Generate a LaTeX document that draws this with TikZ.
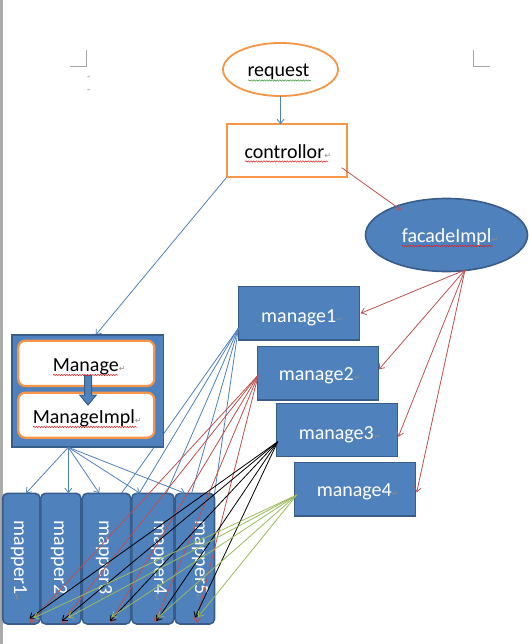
\documentclass[tikz,border=0pt]{standalone}
\usepackage{fontspec}
\setmainfont{Carlito}
\newfontfamily\djv{DejaVu Sans}
\usetikzlibrary{arrows.meta,shapes.geometric,decorations.pathmorphing}
\definecolor{ofblue}{HTML}{4F81BD}
\definecolor{dkblue}{HTML}{385D8A}
\definecolor{oforange}{HTML}{F79646}
\definecolor{ofred}{HTML}{C0504D}
\definecolor{ofgreen}{HTML}{9BBB59}
\definecolor{pmark}{HTML}{8C8C8C}
\definecolor{barg}{HTML}{ABABAB}
\definecolor{sqred}{HTML}{E02020}
\definecolor{sqgreen}{HTML}{3C9A3C}
\newcommand\pmk{{\djv\fontsize{8}{8}\selectfont\textcolor{pmark}{↵}}}
\begin{document}
\begin{tikzpicture}[x=1pt,y=-1pt,
  every node/.style={inner sep=0pt, outer sep=0pt},
  txt/.style={anchor=base west, font=\fontsize{20}{24}\selectfont},
  wtxt/.style={txt, text=white},
  bluebox/.style={draw=dkblue, fill=ofblue, line width=1.6pt},
  orbox/.style={draw=oforange, fill=white, line width=1.8pt},
  conn/.style={line width=0.8pt, -{Straight Barb[length=4.5pt,width=7pt]}},
  bconn/.style={conn, draw=ofblue},
  rconn/.style={conn, draw=ofred},
  kconn/.style={conn, draw=black},
  gconn/.style={conn, draw=ofgreen},
  squig/.style={line width=0.5pt, decorate, decoration={snake, segment length=2.6pt, amplitude=0.7pt}},
  mapbox/.style={bluebox, rounded corners=5pt, minimum height=130.7pt},
  mtxt/.style={anchor=base west, rotate=-90, text=white, font=\fontsize{20}{24}\selectfont}
]
\useasboundingbox (0,0) rectangle (529,644);
\fill[white] (0,0) rectangle (529,644);
\fill[barg] (0,0) rectangle (3,644);
% page corner marks
\draw[gray!70, line width=0.8pt] (70,66) -- (86.3,66) -- (86.3,50);
\draw[gray!70, line width=0.8pt] (473.3,50) -- (473.3,66) -- (490,66);
\node[font=\djv\fontsize{4}{4}\selectfont, text=pmark] (pm1) at (89,77) {↵};
\node[font=\djv\fontsize{4}{4}\selectfont, text=pmark] (pm2) at (89,90.5) {↵};

% request
\node[ellipse, orbox, minimum width=115pt, minimum height=53pt] (req) at (280.5,69.5) {};
\node[txt] (reqT) at (247.5,76.7) {request};
\draw[squig, sqgreen] (248,80.5) -- (311,80.5);

% controllor
\node[orbox, minimum width=120.3pt, minimum height=53pt] (ctrl) at (286.8,150.8) {};
\node[txt] (ctrlT) at (244.5,158.3) {controllor\pmk};
\draw[squig, sqred] (245,161.5) -- (328,161.5);

% facadeImpl
\node[ellipse, bluebox, minimum width=162pt, minimum height=73pt] (fac) at (446.5,235) {};
\node[wtxt] (facT) at (401.8,242.7) {facadeImpl\pmk};
\draw[squig, sqred] (402,246) -- (493,246);

% connectors at top
\draw[bconn] (req.south) -- (req.south |- ctrl.north);
\coordinate (ctrlR) at (341.7,167.7);
\coordinate (facTL) at (401,210);
\draw[rconn] (ctrlR) -- (facTL);
\coordinate (mboxT) at (95.7,335);
\draw[bconn] (ctrl.south west) -- (mboxT);

% manage boxes
\node[bluebox, minimum width=121pt, minimum height=53.3pt] (mg1) at (298.8,313.3) {};
\node[bluebox, minimum width=121pt, minimum height=53.3pt] (mg2) at (317.8,373.3) {};
\node[bluebox, minimum width=121pt, minimum height=53.3pt] (mg3) at (337,430) {};
\node[bluebox, minimum width=121pt, minimum height=53.3pt] (mg4) at (354.8,489.2) {};
\node[wtxt] (mg1T) at (261.2,322.7) {manage1\pmk};
\node[wtxt] (mg2T) at (278.8,380.7) {manage2\pmk};
\node[wtxt] (mg3T) at (298.8,439) {manage3\pmk};
\node[wtxt] (mg4T) at (316.8,496.7) {manage4\pmk};

% facade -> manage
\coordinate (facB) at (465,270);
\coordinate (mg1R) at (360.7,313.3);
\coordinate (mg2R) at (379,369.3);
\coordinate (mg3R) at (398.3,436.7);
\coordinate (mg4R) at (416.7,492.3);
\foreach \t in {mg1R,mg2R,mg3R,mg4R} \draw[rconn] (facB) -- (\t);

% arrow end points at mapper bottoms
\coordinate (r1) at (30,622.5);
\coordinate (r2) at (61,623.5);
\coordinate (r3) at (110,622.5);
\coordinate (r4) at (155,622.5);
\coordinate (r5) at (196,622.5);
\coordinate (k1) at (29.5,618.5);
\coordinate (k2) at (62,621);
\coordinate (k3) at (110,621);
\coordinate (k4) at (156.5,621);
\coordinate (k5) at (195,617.5);
\coordinate (g1) at (33.5,618);
\coordinate (g2) at (68,617.5);
\coordinate (g3) at (111.5,617);
\coordinate (g4) at (158,617.5);
\coordinate (g5) at (198,617);

% manage1 -> mappers (hidden behind the mappers)
\coordinate (m1L) at (238.3,328.3);
\foreach \t in {r1,r2,r3,r4,r5} \draw[bconn] (m1L) -- (\t);

% Manage group
\node[bluebox, minimum width=151.6pt, minimum height=111.7pt] (mbox) at (87.5,391) {};
\node[orbox, line width=2.2pt, rounded corners=7pt, minimum width=136pt, minimum height=45.3pt] (mng) at (86.3,363.35) {};
\node[orbox, line width=2.2pt, rounded corners=7pt, minimum width=136pt, minimum height=45pt] (mngi) at (86.3,415.2) {};
\filldraw[fill=ofblue, draw=dkblue, line width=1pt] (84.5,375.7) -- (91.5,375.7) -- (91.5,395) -- (96.3,395) -- (88,405) -- (79.7,395) -- (84.5,395) -- cycle;
\node[txt] (mngT) at (52.8,371.7) {Manage\pmk};
\draw[squig, sqred] (53,375) -- (118,375);
\node[txt] (mngiT) at (32.8,423.3) {ManageImpl\pmk};
\draw[squig, sqred] (33,427) -- (137,427);

% mappers
\node[mapbox, minimum width=37.3pt] (map1) at (21.35,558.65) {};
\node[mapbox, minimum width=40.3pt] (map2) at (60.85,558.65) {};
\node[mapbox, minimum width=48.4pt] (map3) at (106.5,558.65) {};
\node[mapbox, minimum width=42.3pt] (map4) at (152.85,558.65) {};
\node[mapbox, minimum width=39.5pt] (map5) at (194.75,558.65) {};
\node[mtxt] (map1T) at (14,520.5) {mapper1\pmk};
\node[mtxt] (map2T) at (54,520.5) {mapper2\pmk};
\node[mtxt] (map3T) at (99,520.5) {mapper3\pmk};
\node[mtxt] (map4T) at (154,520.5) {mapper4\pmk};
\node[mtxt] (map5T) at (195,520.5) {mapper5\pmk};

% Manage -> mapper tops
\coordinate (mbS) at (68.3,447.3);
\coordinate (t1) at (26,493.3);
\coordinate (t2) at (68.3,493.3);
\coordinate (t3) at (99.3,493.3);
\coordinate (t4) at (140,493.3);
\coordinate (t5) at (185,493.3);
\foreach \t in {t1,t2,t3,t4,t5} \draw[bconn] (mbS) -- (\t);

% manage2/3/4 -> mappers
\coordinate (m2L) at (258.3,375);
\coordinate (m3L) at (277.7,441.7);
\coordinate (m4L) at (296.7,495);
\foreach \t in {r1,r2,r3,r4,r5} \draw[rconn] (m2L) -- (\t);
\foreach \t in {k1,k2,k3,k4,k5} \draw[kconn] (m3L) -- (\t);
\foreach \t in {g1,g2,g3,g4,g5} \draw[gconn] (m4L) -- (\t);
\end{tikzpicture}
\end{document}
